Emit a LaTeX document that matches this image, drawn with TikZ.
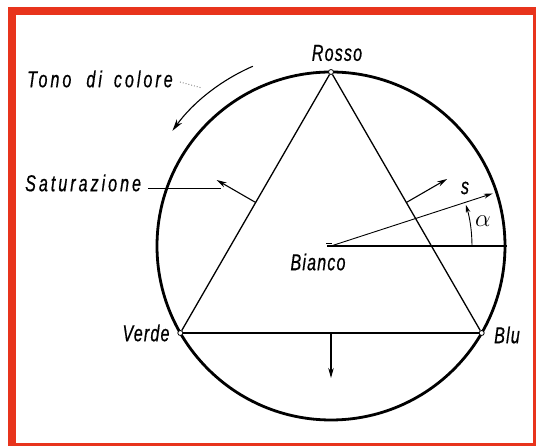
\documentclass[tikz,border=0pt]{standalone}
\usepackage{fontspec}
\setmainfont{Liberation Sans}
\newfontfamily\labfont[FakeStretch=0.7,LetterSpace=5,FakeBold=0.6]{Liberation Sans}
\newfontfamily\widefont[FakeStretch=0.7,LetterSpace=13,FakeBold=0.6]{Liberation Sans}
\usetikzlibrary{arrows.meta,calc}
\definecolor{frame}{RGB}{232,52,28}
\begin{document}
\begin{tikzpicture}[x=1pt,y=1pt,
  lab/.style={font=\labfont\itshape\fontsize{23}{26}\selectfont,inner sep=0pt},
  widelab/.style={font=\widefont\itshape\fontsize{23}{26}\selectfont,inner sep=0pt},
  vert/.style={circle,draw,fill=white,line width=0.8pt,minimum size=5pt,inner sep=0pt},
  edge/.style={line width=1.3pt},
  arr/.style={line width=1.1pt,-{Stealth[length=10pt,width=5.5pt]}}]
\useasboundingbox (0,0) rectangle (536,446);
% frame
\fill[frame] (8,0) rectangle (536,439);
\fill[white] (16,3) rectangle (533,431);
% geometry
\coordinate (C) at (331,200);
\draw[line width=2.8pt] (C) circle (174pt);
\node[vert] (R) at ($(C)+(90:174)$) {};
\node[vert] (V) at ($(C)+(210:174)$) {};
\node[vert] (B) at ($(C)+(-30:174)$) {};
\draw[edge] (R) -- (V);
\draw[edge] (R) -- (B);
\draw[edge] (V) -- (B);
% labels
\node[lab] (rosso) at (337,393) {Rosso};
\node[lab] (verde) at (146,113) {Verde};
\node[lab] (blu) at (507,111) {Blu};
\node[lab] (bianco) at (318,184) {Bianco};
\node[widelab,anchor=west] (sat) at (25,263) {Saturazione};
\node[widelab,anchor=west] (tono) at (27,367) {Tono\hspace{15pt}di\hspace{12pt}colore};
% centre, reference line and s vector
\coordinate (c0) at ($(C)+(-4,0)$);
\coordinate (h1) at ($(C)+(0:176)$);
\coordinate (s1) at ($(C)+(18:170)$);
\draw[line width=1.8pt] (c0) -- (h1);
\draw[line width=1.6pt] ($(c0)+(-1,2.5)$) -- ++(6,0);
\draw[line width=0.9pt,-{Stealth[length=9pt,width=5pt]}] (C) -- (s1);
\node[lab] (s) at (465,258) {s};
\draw[line width=0.9pt,-{Stealth[length=8pt,width=4.5pt]}] ($(C)+(0:141)$) arc[start angle=0,end angle=17,radius=141pt];
\node[inner sep=0pt,font=\fontsize{27}{29}\selectfont] (alpha) at (483,225) {$\alpha$};
% saturation arrows
\coordinate (mR) at ($(R)!0.5!(B)$);
\coordinate (mL) at ($(R)!0.5!(V)$);
\coordinate (mB) at ($(V)!0.5!(B)$);
\coordinate (eR) at ($(mR)+(30:47)$);
\coordinate (eL) at ($(mL)+(150:45)$);
\coordinate (eB) at ($(mB)+(270:45)$);
\draw[arr] (mR) -- (eR);
\draw[arr] (mL) -- (eL);
\draw[arr] (mB) -- (eB);
% leaders
\coordinate (satend) at (221,257);
\draw[line width=1pt] ($(sat.east)+(7,-6)$) -- (satend);
\coordinate (t0) at (180,364);
\coordinate (t1) at (202,358);
\draw[line width=0.9pt,dotted,gray] (t0) -- (t1);
% hue arrow
\draw[line width=1.1pt,-{Stealth[length=12pt,width=6.5pt]}] ($(C)+(113.5:196)$) arc[start angle=113.5,end angle=144,radius=196pt];
\end{tikzpicture}
\end{document}
